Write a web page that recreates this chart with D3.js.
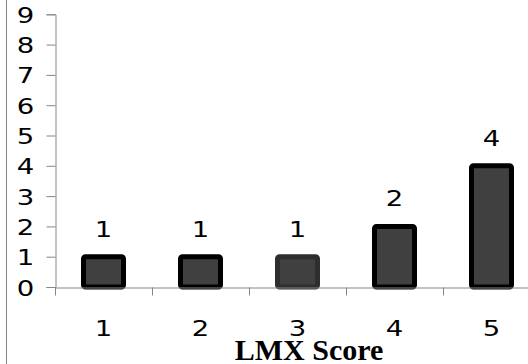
<!DOCTYPE html>
<html><head><meta charset="utf-8">
<script src="https://cdn.jsdelivr.net/npm/d3@7"></script>
<style>html,body{margin:0;padding:0;background:#fff;}svg{display:block;}</style>
</head><body>
<script>
const categories = ["1","2","3","4","5"];
const values = [1,1,1,2,4];
const yTicks = [0,1,2,3,4,5,6,7,8,9];
const xTitle = "LMX Score";

const W = 528, H = 364;
const svg = d3.select("body").append("svg").attr("width", W).attr("height", H);
const axisColor = "#868686";
const SX = 1.25; // horizontal stretch of digit labels

const x = d3.scaleBand().domain(categories).range([55, 540]).paddingInner(0).paddingOuter(0);
const y = d3.scaleLinear().domain([0, 9]).range([287, 14.3]);

// left border
svg.append("line").attr("x1", 6.5).attr("x2", 6.5).attr("y1", 0).attr("y2", H)
  .attr("stroke", axisColor).attr("stroke-width", 1);

// bars
const barW = 40;
svg.selectAll("rect.bar").data(values).enter().append("rect")
  .attr("class", "bar")
  .attr("x", (d, i) => x(categories[i]) + x.bandwidth() / 2 - barW / 2)
  .attr("y", d => y(d))
  .attr("width", barW)
  .attr("height", d => y(0) - y(d))
  .attr("rx", 2)
  .attr("fill", "#404040")
  .attr("stroke", (d, i) => i === 2 ? "#2e2e2e" : "#000")
  .attr("stroke-width", 5);

// y axis
const yAxis = svg.append("g").attr("transform", "translate(55.5,0)")
  .call(d3.axisLeft(y).tickValues(yTicks).tickSize(9).tickFormat(d3.format("d")));
yAxis.select(".domain").attr("stroke", axisColor);
yAxis.selectAll(".tick line").attr("stroke", axisColor);
yAxis.selectAll(".tick text")
  .attr("x", 0).attr("dy", null).attr("y", 0)
  .attr("text-anchor", "middle")
  .attr("transform", `translate(-30,8) scale(${SX},1)`)
  .attr("fill", "#000")
  .style("font-family", "DejaVu Sans").style("font-size", "22px");

// x axis
const xAxis = svg.append("g").attr("transform", "translate(0,287.5)")
  .call(d3.axisBottom(x).tickSize(0).tickFormat(""));
xAxis.select(".domain").attr("stroke", axisColor);
xAxis.selectAll(".tick").remove();
const seps = categories.slice(0, -1).map(c => x(c) + x.bandwidth());
xAxis.selectAll("line.sep").data(seps).enter().append("line")
  .attr("x1", d => Math.round(d) + 0.5).attr("x2", d => Math.round(d) + 0.5)
  .attr("y1", 0).attr("y2", 8).attr("stroke", axisColor);
xAxis.append("line").attr("x1", 55.5).attr("x2", 55.5).attr("y1", 0).attr("y2", 8).attr("stroke", axisColor);

// x labels
svg.selectAll("text.xl").data(categories).enter().append("text")
  .attr("transform", d => `translate(${x(d) + x.bandwidth() / 2},336) scale(${SX},1)`)
  .attr("text-anchor", "middle")
  .style("font-family", "DejaVu Sans").style("font-size", "22px")
  .text(d => d);

// data labels
svg.selectAll("text.dl").data(values).enter().append("text")
  .attr("transform", (d, i) => `translate(${x(categories[i]) + x.bandwidth() / 2},${y(d) - 20}) scale(${SX},1)`)
  .attr("text-anchor", "middle")
  .style("font-family", "DejaVu Sans").style("font-size", "22px")
  .text(d => d);

// title
svg.append("text").attr("x", 309).attr("y", 360).attr("text-anchor", "middle")
  .style("font-family", "Liberation Serif").style("font-weight", "bold").style("font-size", "30px")
  .text(xTitle);
</script>
</body></html>
